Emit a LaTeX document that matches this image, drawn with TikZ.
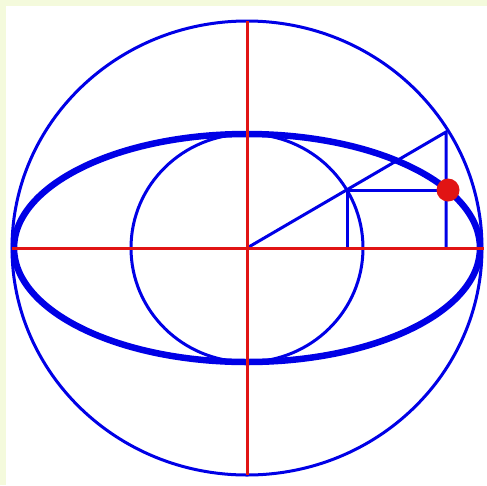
\documentclass[tikz,border=0pt]{standalone}
\definecolor{bgyel}{RGB}{244,250,220}
\definecolor{lineblue}{RGB}{0,0,230}
\definecolor{linered}{RGB}{225,20,20}
\begin{document}
\begin{tikzpicture}[x=1pt,y=-1pt,
  thin blue/.style={draw=lineblue,line width=3pt},
  thick blue/.style={draw=lineblue,line width=6.5pt},
  axis/.style={draw=linered,line width=3pt}]
\useasboundingbox (0,0) rectangle (487,485);
\fill[bgyel] (0,0) rectangle (487,485);
\fill[white] (6,6) rectangle (487,485);
\coordinate (O) at (247,248);
\coordinate (P) at (446,132);
\coordinate (Q) at (347,190);
\coordinate (D) at (448,190);
\coordinate (Pb) at (446,248);
\coordinate (Qb) at (347,248);
% outer and inner circles
\draw[thin blue] (O) ellipse [x radius=235, y radius=227];
\draw[thin blue] (O) ellipse [x radius=116, y radius=114];
% main ellipse
\draw[thick blue] (O) ellipse [x radius=233, y radius=114];
% construction lines
\draw[thin blue] (O) -- (P) -- (Pb);
\draw[thin blue] (Q) -- (D);
\draw[thin blue] (Q) -- (Qb);
% axes
\draw[axis] (12,248) -- (484,248);
\draw[axis] (247,21) -- (247,475);
% point
\fill[linered] (D) circle (11.5);
\end{tikzpicture}
\end{document}
